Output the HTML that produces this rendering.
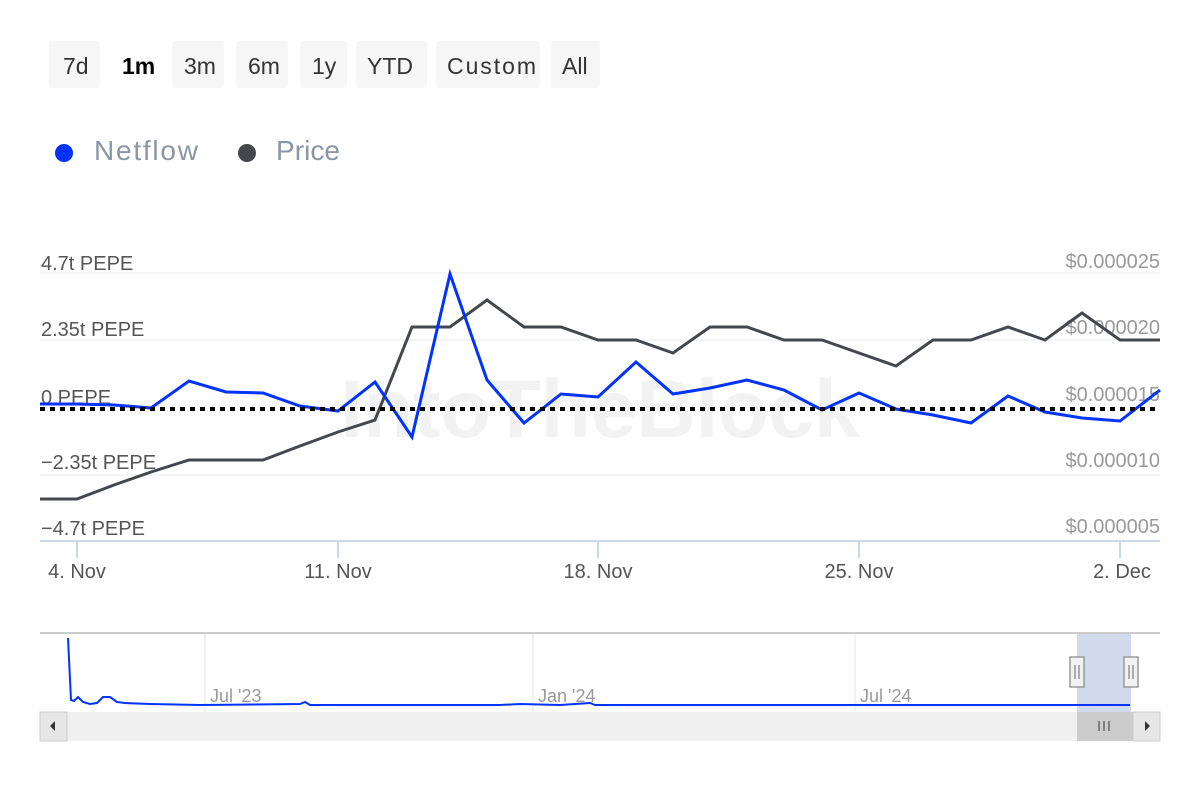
<!DOCTYPE html>
<html><head><meta charset="utf-8"><style>
body{margin:0;background:#fff;width:1200px;height:800px;overflow:hidden;font-family:"Liberation Sans",sans-serif}
</style></head><body>
<svg width="1200" height="800" xmlns="http://www.w3.org/2000/svg" font-family="Liberation Sans, sans-serif">
<g font-size="23" fill="#333">
<rect x="49" y="41" width="51" height="47" rx="3" fill="#f6f6f6"/><text x="63" y="74">7d</text>
<text x="122" y="74" font-weight="bold" fill="#000">1m</text>
<rect x="172" y="41" width="52" height="47" rx="3" fill="#f6f6f6"/><text x="184" y="74">3m</text>
<rect x="236" y="41" width="52" height="47" rx="3" fill="#f6f6f6"/><text x="248" y="74">6m</text>
<rect x="300" y="41" width="47" height="47" rx="3" fill="#f6f6f6"/><text x="312" y="74">1y</text>
<rect x="356" y="41" width="71" height="47" rx="3" fill="#f6f6f6"/><text x="367" y="74">YTD</text>
<rect x="436" y="41" width="104" height="47" rx="3" fill="#f6f6f6"/><text x="447" y="74" textLength="89">Custom</text>
<rect x="551" y="41" width="49" height="47" rx="3" fill="#f6f6f6"/><text x="562" y="74">All</text>
</g>
<circle cx="64" cy="153" r="9" fill="#0033ff"/><text x="94" y="160" font-size="28" fill="#8a97a3" textLength="104">Netflow</text>
<circle cx="247" cy="153" r="9" fill="#44484d"/><text x="276" y="160" font-size="28" fill="#8a97a3" textLength="64">Price</text>
<g stroke="#eef0f4" stroke-width="1.5">
<line x1="40" y1="273" x2="1160" y2="273"/><line x1="40" y1="340" x2="1160" y2="340"/><line x1="40" y1="475" x2="1160" y2="475"/>
</g>
<text x="600" y="437" font-size="82" font-weight="bold" fill="#f2f2f2" text-anchor="middle">IntoTheBlock</text>
<line x1="40" y1="541" x2="1160" y2="541" stroke="#ccd6eb" stroke-width="2"/>
<g stroke="#ccd6eb" stroke-width="2"><line x1="77" y1="541" x2="77" y2="558"/><line x1="338" y1="541" x2="338" y2="558"/><line x1="598" y1="541" x2="598" y2="558"/><line x1="859" y1="541" x2="859" y2="558"/><line x1="1120" y1="541" x2="1120" y2="558"/></g>
<g font-size="20" fill="#555"><text x="41" y="270">4.7t PEPE</text><text x="41" y="336">2.35t PEPE</text><text x="41" y="404">0 PEPE</text><text x="41" y="469">−2.35t PEPE</text><text x="41" y="535">−4.7t PEPE</text></g>
<g font-size="20" fill="#999" text-anchor="end"><text x="1160" y="268">$0.000025</text><text x="1160" y="334">$0.000020</text><text x="1160" y="401">$0.000015</text><text x="1160" y="467">$0.000010</text><text x="1160" y="533">$0.000005</text></g>
<g font-size="20" fill="#555" text-anchor="middle"><text x="77" y="578">4. Nov</text><text x="338" y="578">11. Nov</text><text x="598" y="578">18. Nov</text><text x="859" y="578">25. Nov</text><text x="1122" y="578">2. Dec</text></g>
<polyline fill="none" stroke="#44484d" stroke-width="3" points="40,499 77,499 114,485 151,472 189,460 226,460 263,460 300,446 338,432 375,420 412,327 450,327 487,300 524,327 561,327 598,340 636,340 673,353 710,327 747,327 784,340 822,340 859,353 896,366 933,340 971,340 1008,327 1045,340 1082,313 1120,340 1160,340"/>
<polyline fill="none" stroke="#0033ff" stroke-width="3" points="40,404 77,404 114,405 151,408 189,381 226,392 263,393 300,406 338,411 375,382 412,437 450,274 487,380 524,423 561,394 598,397 636,362 673,394 710,388 747,380 784,390 822,410 859,393 896,409 933,415 971,423 1008,396 1045,412 1082,418 1120,421 1160,390"/>
<line x1="40" y1="409" x2="1160" y2="409" stroke="#000" stroke-width="4" stroke-dasharray="5,5"/>
<line x1="40" y1="633" x2="1160" y2="633" stroke="#ccc" stroke-width="2"/>
<g stroke="#e6e6e6"><line x1="205" y1="634" x2="205" y2="712"/><line x1="533" y1="634" x2="533" y2="712"/><line x1="855" y1="634" x2="855" y2="712"/></g>
<g font-size="18" fill="#999"><text x="210" y="702">Jul '23</text><text x="538" y="702">Jan '24</text><text x="860" y="702">Jul '24</text></g>
<rect x="1077" y="634" width="54" height="78" fill="#ccd6eb" opacity="0.9"/>
<polyline fill="none" stroke="#0033ff" stroke-width="2" points="68,638 71,700 74,701 78,697 83,702 90,704 97,703 103,697 110,697 117,702 125,703 150,704 200,705 300,704 305,702 310,705 500,705 520,704 560,705 590,703 595,705 1130,705"/>
<rect x="40" y="712" width="1120" height="29" fill="#f0f0f0"/>
<rect x="40" y="712" width="27" height="29" fill="#e6e6e6" stroke="#ccc"/><path d="M50 726 l5 -5 v10z" fill="#333"/>
<rect x="1133" y="712" width="27" height="29" fill="#e6e6e6" stroke="#ccc"/><path d="M1150 726 l-5 -5 v10z" fill="#333"/>
<rect x="1077" y="712" width="56" height="29" fill="#ccc"/>
<g stroke="#333"><line x1="1099" y1="721" x2="1099" y2="731"/><line x1="1104" y1="721" x2="1104" y2="731"/><line x1="1109" y1="721" x2="1109" y2="731"/></g>
<rect x="1070" y="657" width="14" height="30" fill="#f2f2f2" stroke="#999" stroke-width="1.5"/><rect x="1124" y="657" width="14" height="30" fill="#f2f2f2" stroke="#999" stroke-width="1.5"/>
<g stroke="#666"><line x1="1075" y1="665" x2="1075" y2="679"/><line x1="1079" y1="665" x2="1079" y2="679"/><line x1="1129" y1="665" x2="1129" y2="679"/><line x1="1133" y1="665" x2="1133" y2="679"/></g>
</svg>
</body></html>
